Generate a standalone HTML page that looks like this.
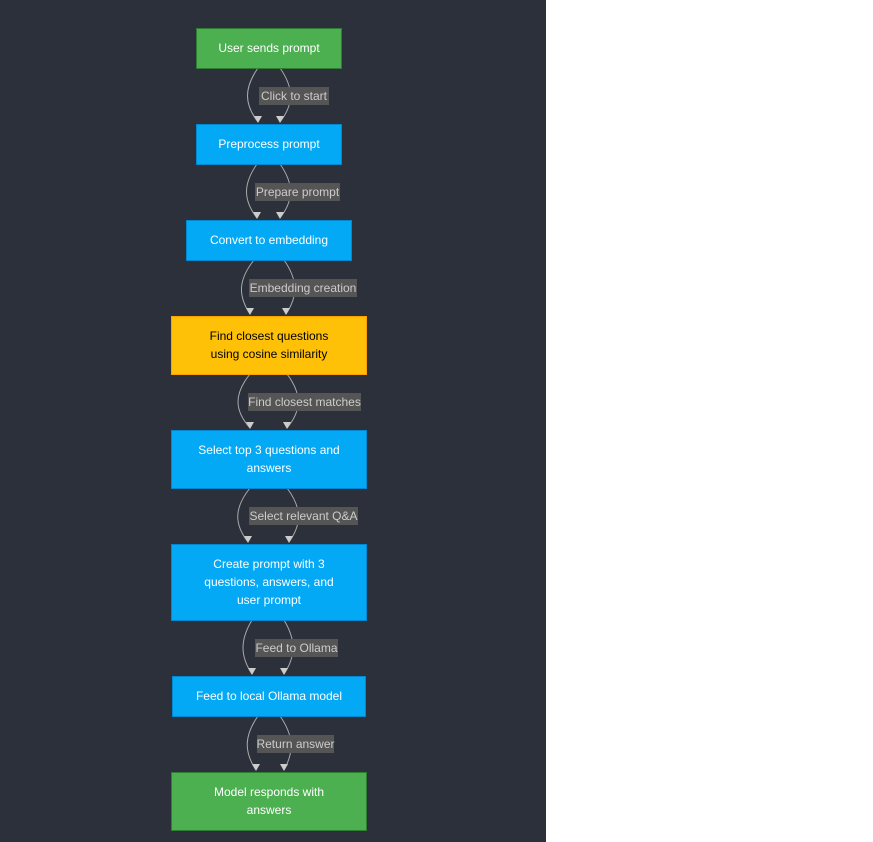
<!DOCTYPE html>
<html><head><meta charset="utf-8"><style>
html,body{margin:0;padding:0;background:#fff;}
svg{display:block;}
text{font-family:"Liberation Sans",sans-serif;font-size:12px;}
</style></head><body>
<svg width="873" height="842" xmlns="http://www.w3.org/2000/svg">
<defs><marker id="a" markerWidth="8" markerHeight="8" refX="4" refY="7" orient="auto" markerUnits="userSpaceOnUse"><path d="M0,0 L8,0 L4,8 z" fill="#ccc" transform="rotate(0)"/></marker></defs>
<rect x="0" y="0" width="546" height="842" fill="#2b303b"/>
<g fill="none" stroke="#aaa" stroke-width="1">
<path d="M258,68 C244,88 244,104 258,122"/><path d="M280,68 C294,88 294,104 280,122"/>
<path d="M257,164 C243,184 243,200 257,218"/><path d="M280,164 C294,184 294,200 280,218"/>
<path d="M254,260 C238,280 238,296 250,314"/><path d="M284,260 C298,280 298,296 286,314"/>
<path d="M250,374 C234,394 234,410 250,428"/><path d="M287,374 C302,394 302,410 287,428"/>
<path d="M250,488 C234,508 234,524 248,542"/><path d="M287,488 C302,508 302,524 289,542"/>
<path d="M252,620 C240,640 240,656 252,674"/><path d="M284,620 C296,640 296,656 284,674"/>
<path d="M258,716 C244,736 244,752 256,770"/><path d="M280,716 C294,736 294,752 284,770"/>
</g>
<g fill="#ccc">
<path d="M254,116 L262,116 L258,123 z"/><path d="M276,116 L284,116 L280,123 z"/>
<path d="M253,212 L261,212 L257,219 z"/><path d="M276,212 L284,212 L280,219 z"/>
<path d="M246,308 L254,308 L250,315 z"/><path d="M282,308 L290,308 L286,315 z"/>
<path d="M246,422 L254,422 L250,429 z"/><path d="M283,422 L291,422 L287,429 z"/>
<path d="M244,536 L252,536 L248,543 z"/><path d="M285,536 L293,536 L289,543 z"/>
<path d="M248,668 L256,668 L252,675 z"/><path d="M280,668 L288,668 L284,675 z"/>
<path d="M252,764 L260,764 L256,771 z"/><path d="M280,764 L288,764 L284,771 z"/>
</g>
<g fill="#555">
<rect x="259" y="87" width="70" height="18"/>
<rect x="255" y="183" width="85" height="18"/>
<rect x="249" y="279" width="108" height="18"/>
<rect x="248" y="393" width="113" height="18"/>
<rect x="249" y="507" width="109" height="18"/>
<rect x="255" y="639" width="83" height="18"/>
<rect x="257" y="735" width="77" height="18"/>
</g>
<g fill="#ccc" text-anchor="middle">
<text x="294" y="100">Click to start</text>
<text x="297.5" y="196">Prepare prompt</text>
<text x="303" y="292">Embedding creation</text>
<text x="304.5" y="406">Find closest matches</text>
<text x="303.5" y="520">Select relevant Q&amp;A</text>
<text x="296.5" y="652">Feed to Ollama</text>
<text x="295.5" y="748">Return answer</text>
</g>
<rect x="196.5" y="28.5" width="145" height="40" fill="#4caf50" stroke="#2e7d32"/>
<rect x="196.5" y="124.5" width="145" height="40" fill="#03a9f4" stroke="#0288d1"/>
<rect x="186.5" y="220.5" width="165" height="40" fill="#03a9f4" stroke="#0288d1"/>
<rect x="171.5" y="316.5" width="195" height="58" fill="#ffc107" stroke="#ffa000"/>
<rect x="171.5" y="430.5" width="195" height="58" fill="#03a9f4" stroke="#0288d1"/>
<rect x="171.5" y="544.5" width="195" height="76" fill="#03a9f4" stroke="#0288d1"/>
<rect x="172.5" y="676.5" width="193" height="40" fill="#03a9f4" stroke="#0288d1"/>
<rect x="171.5" y="772.5" width="195" height="58" fill="#4caf50" stroke="#2e7d32"/>
<g fill="#fff" text-anchor="middle">
<text x="269" y="52">User sends prompt</text>
<text x="269" y="148">Preprocess prompt</text>
<text x="269" y="244">Convert to embedding</text>
<text x="269" y="340" fill="#000">Find closest questions</text>
<text x="269" y="358" fill="#000">using cosine similarity</text>
<text x="269" y="454">Select top 3 questions and</text>
<text x="269" y="472">answers</text>
<text x="269" y="568">Create prompt with 3</text>
<text x="269" y="586">questions, answers, and</text>
<text x="269" y="604">user prompt</text>
<text x="269" y="700">Feed to local Ollama model</text>
<text x="269" y="796">Model responds with</text>
<text x="269" y="814">answers</text>
</g>
</svg>
</body></html>
